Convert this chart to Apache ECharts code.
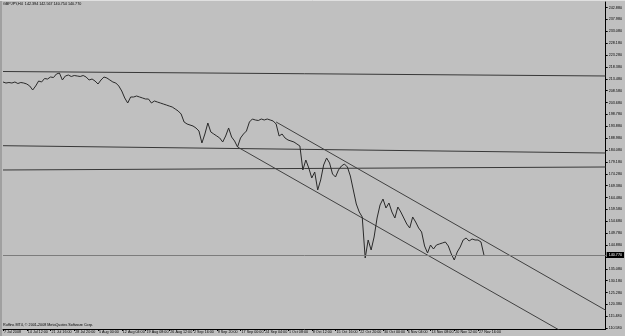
<!DOCTYPE html>
<html><head><meta charset="utf-8">
<script src="https://cdn.jsdelivr.net/npm/echarts@6/dist/echarts.min.js"></script>
<style>html,body{margin:0;padding:0;background:#c0c0c0}#c{width:625px;height:336px}</style>
</head><body><div id="c"></div>
<script>
// ---- data ----
const chartTitle = 'GBPJPY,H4  142.394 142.567 140.754 140.770';
const footerText = 'Ruffins MT4, \u00a9 2001-2008 MetaQuotes Software Corp.';
const timeLabels = ['7 Jul 2008','14 Jul 12:00','21 Jul 16:00','28 Jul 20:00','5 Aug 00:00','12 Aug 04:00',
  '19 Aug 08:00','26 Aug 12:00','2 Sep 16:00','9 Sep 20:00','17 Sep 00:00','24 Sep 04:00','1 Oct 08:00',
  '8 Oct 12:00','15 Oct 16:00','22 Oct 20:00','30 Oct 00:00','6 Nov 04:00','13 Nov 08:00','20 Nov 12:00','27 Nov 16:00'];
const prices = [
 212.15,211.73,211.94,211.73,212.15,211.53,211.94,211.73,211.32,210.50,
 208.85,210.50,212.56,212.15,213.59,213.38,214.21,214.00,215.45,215.86,
 212.97,214.62,215.03,214.42,214.83,214.62,214.42,214.83,214.21,212.97,
 213.38,212.56,211.32,212.97,214.21,213.80,212.97,212.15,211.73,210.50,
 208.43,205.55,203.48,205.96,205.96,206.37,205.96,205.55,205.13,205.13,
 203.48,204.31,203.89,203.48,203.07,202.66,202.24,201.83,201.01,200.18,
 198.94,195.64,194.82,194.40,193.99,193.17,191.93,186.98,190.69,195.23,
 191.52,190.69,189.87,189.04,187.39,189.87,193.17,189.45,187.80,185.33,
 189.04,190.69,191.93,195.64,196.88,196.47,196.26,196.88,196.47,196.88,
 196.47,196.06,194.82,189.87,190.69,189.04,188.22,187.80,187.39,186.57,
 185.74,175.84,179.96,176.66,172.54,175.01,167.59,171.71,177.90,180.79,
 178.73,174.19,172.95,175.84,177.49,178.31,177.08,173.36,167.59,161.81,
 158.51,156.45,139.53,146.96,142.83,148.19,156.03,161.40,163.87,160.16,
 162.22,158.51,156.03,160.57,158.51,156.03,153.56,151.91,156.45,154.38,
 151.91,150.26,144.48,141.59,144.89,143.24,144.89,145.31,145.72,146.13,
 144.48,141.18,138.70,142.00,144.07,146.96,147.78,146.54,147.37,146.96,
 146.96,146.13,140.77];
const yTicks = [242.88,237.98,233.08,228.18,223.28,218.38,213.48,208.58,203.68,198.78,193.88,188.98,
  184.08,179.18,174.28,169.38,164.48,159.58,154.68,149.78,144.88,139.98,135.08,130.18,125.28,120.38,115.48,110.58];
const bidPrice = 140.77;
const hLineTop = [[0,216.48],[203,214.63]];
const hLineMid = [[0,185.87],[203,182.85]];
const hLineLow = [[0,175.84],[203,177.08]];
const channelUpper = [[92,195.64],[203,117.99]];
const channelLower = [[79,185.33],[203,98.90]];
const yMin = 110.23, yMax = 245.16;
const slotCount = 204, labelEvery = 8;

// ---- build ----
const cats = Array.from({length: slotCount}, (_, i) =>
  (i % labelEvery === 0 && i / labelEvery < timeLabels.length) ? timeLabels[i / labelEvery] : '');
const FF = 'Liberation Sans';
const FS = 3.7;
const showIdx = (idx, val) => val !== '';
const trend = (d, color) => ({
  type: 'line', data: d, showSymbol: false, silent: true, animation: false,
  lineStyle: { color: color, width: 1 }, z: 3
});

const chart = echarts.init(document.getElementById('c'), null, { renderer: 'canvas' });
chart.setOption({
  backgroundColor: '#c0c0c0',
  animation: false,
  textStyle: { fontFamily: FF },
  title: [
    { text: chartTitle, left: 3, top: 2, padding: 0,
      textStyle: { fontSize: FS, fontWeight: 'normal', color: '#000', fontFamily: FF } },
    { text: footerText, left: 3, top: 323, padding: 0,
      textStyle: { fontSize: FS, fontWeight: 'normal', color: '#000', fontFamily: FF } }
  ],
  grid: { left: 3, right: 15, top: 2, bottom: 7, containLabel: false },
  xAxis: {
    type: 'category', data: cats, boundaryGap: false,
    axisLine: { show: true, lineStyle: { color: '#000', width: 1 } },
    axisTick: { show: true, interval: showIdx, length: 2, lineStyle: { color: '#000' } },
    axisLabel: { interval: showIdx, align: 'left', margin: 1, fontSize: FS, color: '#000', fontFamily: FF, padding: [0,0,0,1] },
    splitLine: { show: false }
  },
  yAxis: {
    type: 'value', position: 'right', min: yMin, max: yMax, scale: true,
    axisLine: { show: true, lineStyle: { color: '#000', width: 1 } },
    axisTick: { show: true, length: 2, customValues: yTicks, lineStyle: { color: '#000' } },
    axisLabel: { customValues: yTicks, margin: 3, fontSize: FS, color: '#000', fontFamily: FF,
      formatter: v => v.toFixed(3) },
    splitLine: { show: false }
  },
  graphic: [
    { type: 'line', shape: { x1: 1, y1: 0, x2: 1, y2: 336 }, style: { stroke: '#808080', lineWidth: 1 }, silent: true },
    { type: 'line', shape: { x1: 0, y1: 0.5, x2: 625, y2: 0.5 }, style: { stroke: '#e0e0e0', lineWidth: 1 }, silent: true }
  ],
  series: [
    trend(hLineTop, '#383838'),
    trend(hLineMid, '#383838'),
    trend(hLineLow, '#383838'),
    trend(channelUpper, '#404040'),
    trend(channelLower, '#404040'),
    {
      type: 'line', data: prices, showSymbol: false, silent: true, z: 4,
      lineStyle: { color: '#2a2a2a', width: 1 },
      markLine: {
        silent: true, symbol: 'none', animation: false,
        lineStyle: { color: '#7c7c7c', type: 'solid', width: 1 },
        label: { show: true, position: 'end', distance: 1, formatter: () => bidPrice.toFixed(3),
          backgroundColor: '#000', color: '#fff', fontSize: FS, fontFamily: FF, padding: [1, 2] },
        data: [{ yAxis: bidPrice }]
      }
    }
  ]
});
</script></body></html>
